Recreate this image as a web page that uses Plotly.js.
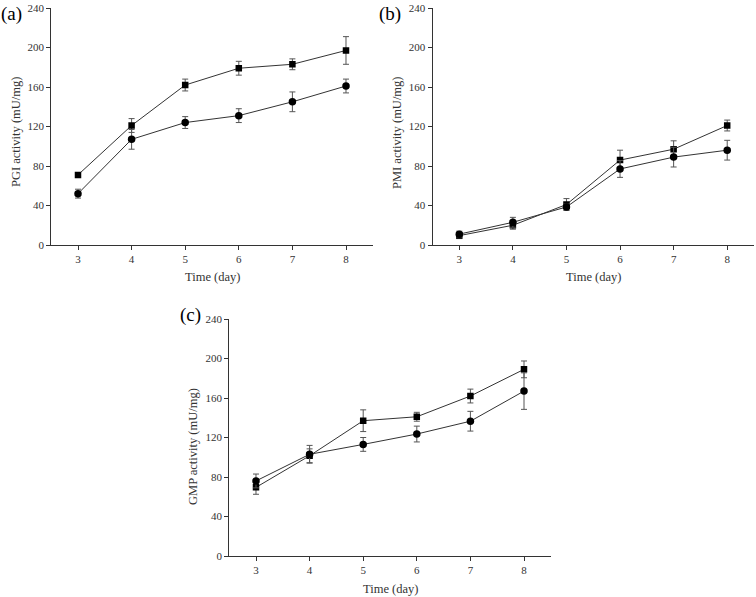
<!DOCTYPE html>
<html>
<head>
<meta charset="utf-8">
<script src="https://cdn.plot.ly/plotly-3.0.1.min.js"></script>
<style>html,body{margin:0;padding:0;background:#fff;}#chart{width:756px;height:597px;}</style>
</head>
<body>
<div id="chart"></div>
<script>
// Data
var days = [3, 4, 5, 6, 7, 8];
var xTickLabels = ['3', '4', '5', '6', '7', '8'];
var yTickVals = [0, 40, 80, 120, 160, 200, 240];

var pgiSquare = [71, 121, 162, 179, 183, 197];
var pgiSquareErr = [2, 7, 6, 7, 5.5, 14];
var pgiCircle = [52, 107, 124, 131, 145, 161];
var pgiCircleErr = [4.5, 10, 6, 7, 10, 7];

var pmiSquare = [9.5, 20, 41, 86, 97, 121];
var pmiSquareErr = [3, 4, 6, 10, 8.5, 5.5];
var pmiCircle = [11, 23, 38.5, 77, 89, 96];
var pmiCircleErr = [3, 5, 3, 8.5, 10, 10];

var gmpSquare = [69.5, 101.5, 137, 141, 162, 189];
var gmpSquareErr = [7, 7, 11, 4.5, 7, 8.5];
var gmpCircle = [76, 103, 113, 123.5, 136.5, 167];
var gmpCircleErr = [7, 9, 7, 8, 10, 18.5];

var panelLabels = ['(a)', '(b)', '(c)'];
var yTitles = ['PGI activity (mU/mg)', 'PMI activity (mU/mg)', 'GMP activity (mU/mg)'];
var xTitle = 'Time (day)';

var FONT = 'Liberation Serif, Times New Roman, serif';
var W = 756, H = 597;
function px(x) { return x / W; }
function py(y) { return 1 - y / H; }

function series(x, y, err, sym, size, xa, ya) {
  return {
    x: x, y: y, type: 'scatter', mode: 'lines+markers',
    xaxis: xa, yaxis: ya,
    line: {color: '#333', width: 1},
    marker: {symbol: sym, size: size, color: '#000'},
    error_y: {type: 'data', array: err, visible: true, color: '#555', thickness: 1, width: 3},
    showlegend: false, hoverinfo: 'skip'
  };
}

var data = [
  series(days, pgiSquare, pgiSquareErr, 'square', 6.5, 'x', 'y'),
  series(days, pgiCircle, pgiCircleErr, 'circle', 7.5, 'x', 'y'),
  series(days, pmiSquare, pmiSquareErr, 'square', 6.5, 'x2', 'y2'),
  series(days, pmiCircle, pmiCircleErr, 'circle', 7.5, 'x2', 'y2'),
  series(days, gmpSquare, gmpSquareErr, 'square', 6.5, 'x3', 'y3'),
  series(days, gmpCircle, gmpCircleErr, 'circle', 7.5, 'x3', 'y3')
];

function xax(d0, d1, anchor) {
  return {
    domain: [px(d0), px(d1)], anchor: anchor, range: [2.5, 8.5],
    tickvals: days, ticktext: xTickLabels,
    showgrid: false, zeroline: false, showline: true, linecolor: '#333', linewidth: 1,
    ticks: 'outside', ticklen: 4, tickcolor: '#333', tickwidth: 1,
    tickfont: {family: FONT, size: 11, color: '#333'}, fixedrange: true
  };
}
function yax(t0, t1, anchor) {
  return {
    domain: [py(t1), py(t0)], anchor: anchor, range: [0, 240],
    tickvals: yTickVals,
    showgrid: false, zeroline: false, showline: true, linecolor: '#333', linewidth: 1,
    ticks: 'outside', ticklen: 4, tickcolor: '#333', tickwidth: 1,
    tickfont: {family: FONT, size: 11, color: '#333'}, fixedrange: true
  };
}

function ann(text, x, y, size, angle) {
  return {
    text: text, xref: 'paper', yref: 'paper', x: px(x), y: py(y),
    xanchor: 'center', yanchor: 'middle', showarrow: false,
    textangle: angle || 0,
    font: {family: FONT, size: size, color: angle !== undefined || size < 15 ? '#333' : '#000'}
  };
}

var layout = {
  width: W, height: H,
  margin: {l: 0, r: 0, t: 0, b: 0},
  paper_bgcolor: '#fff', plot_bgcolor: '#fff',
  xaxis: xax(51.2, 372.8, 'y'),
  yaxis: yax(8, 245, 'x'),
  xaxis2: xax(432.5, 754, 'y2'),
  yaxis2: yax(8, 245, 'x2'),
  xaxis3: xax(229.2, 550.8, 'y3'),
  yaxis3: yax(319, 556, 'x3'),
  annotations: [
    ann(panelLabels[0], 11, 14, 19),
    ann(panelLabels[1], 390, 14, 19),
    ann(panelLabels[2], 190, 315, 19),
    ann(yTitles[0], 16, 132, 12.5, -90),
    ann(yTitles[1], 397, 133, 12.5, -90),
    ann(yTitles[2], 193, 447, 12.5, -90),
    ann(xTitle, 212, 277, 12.5),
    ann(xTitle, 593, 277, 12.5),
    ann(xTitle, 390, 589, 12.5)
  ]
};

Plotly.newPlot('chart', data, layout, {displayModeBar: false, staticPlot: true});
</script>
</body>
</html>
